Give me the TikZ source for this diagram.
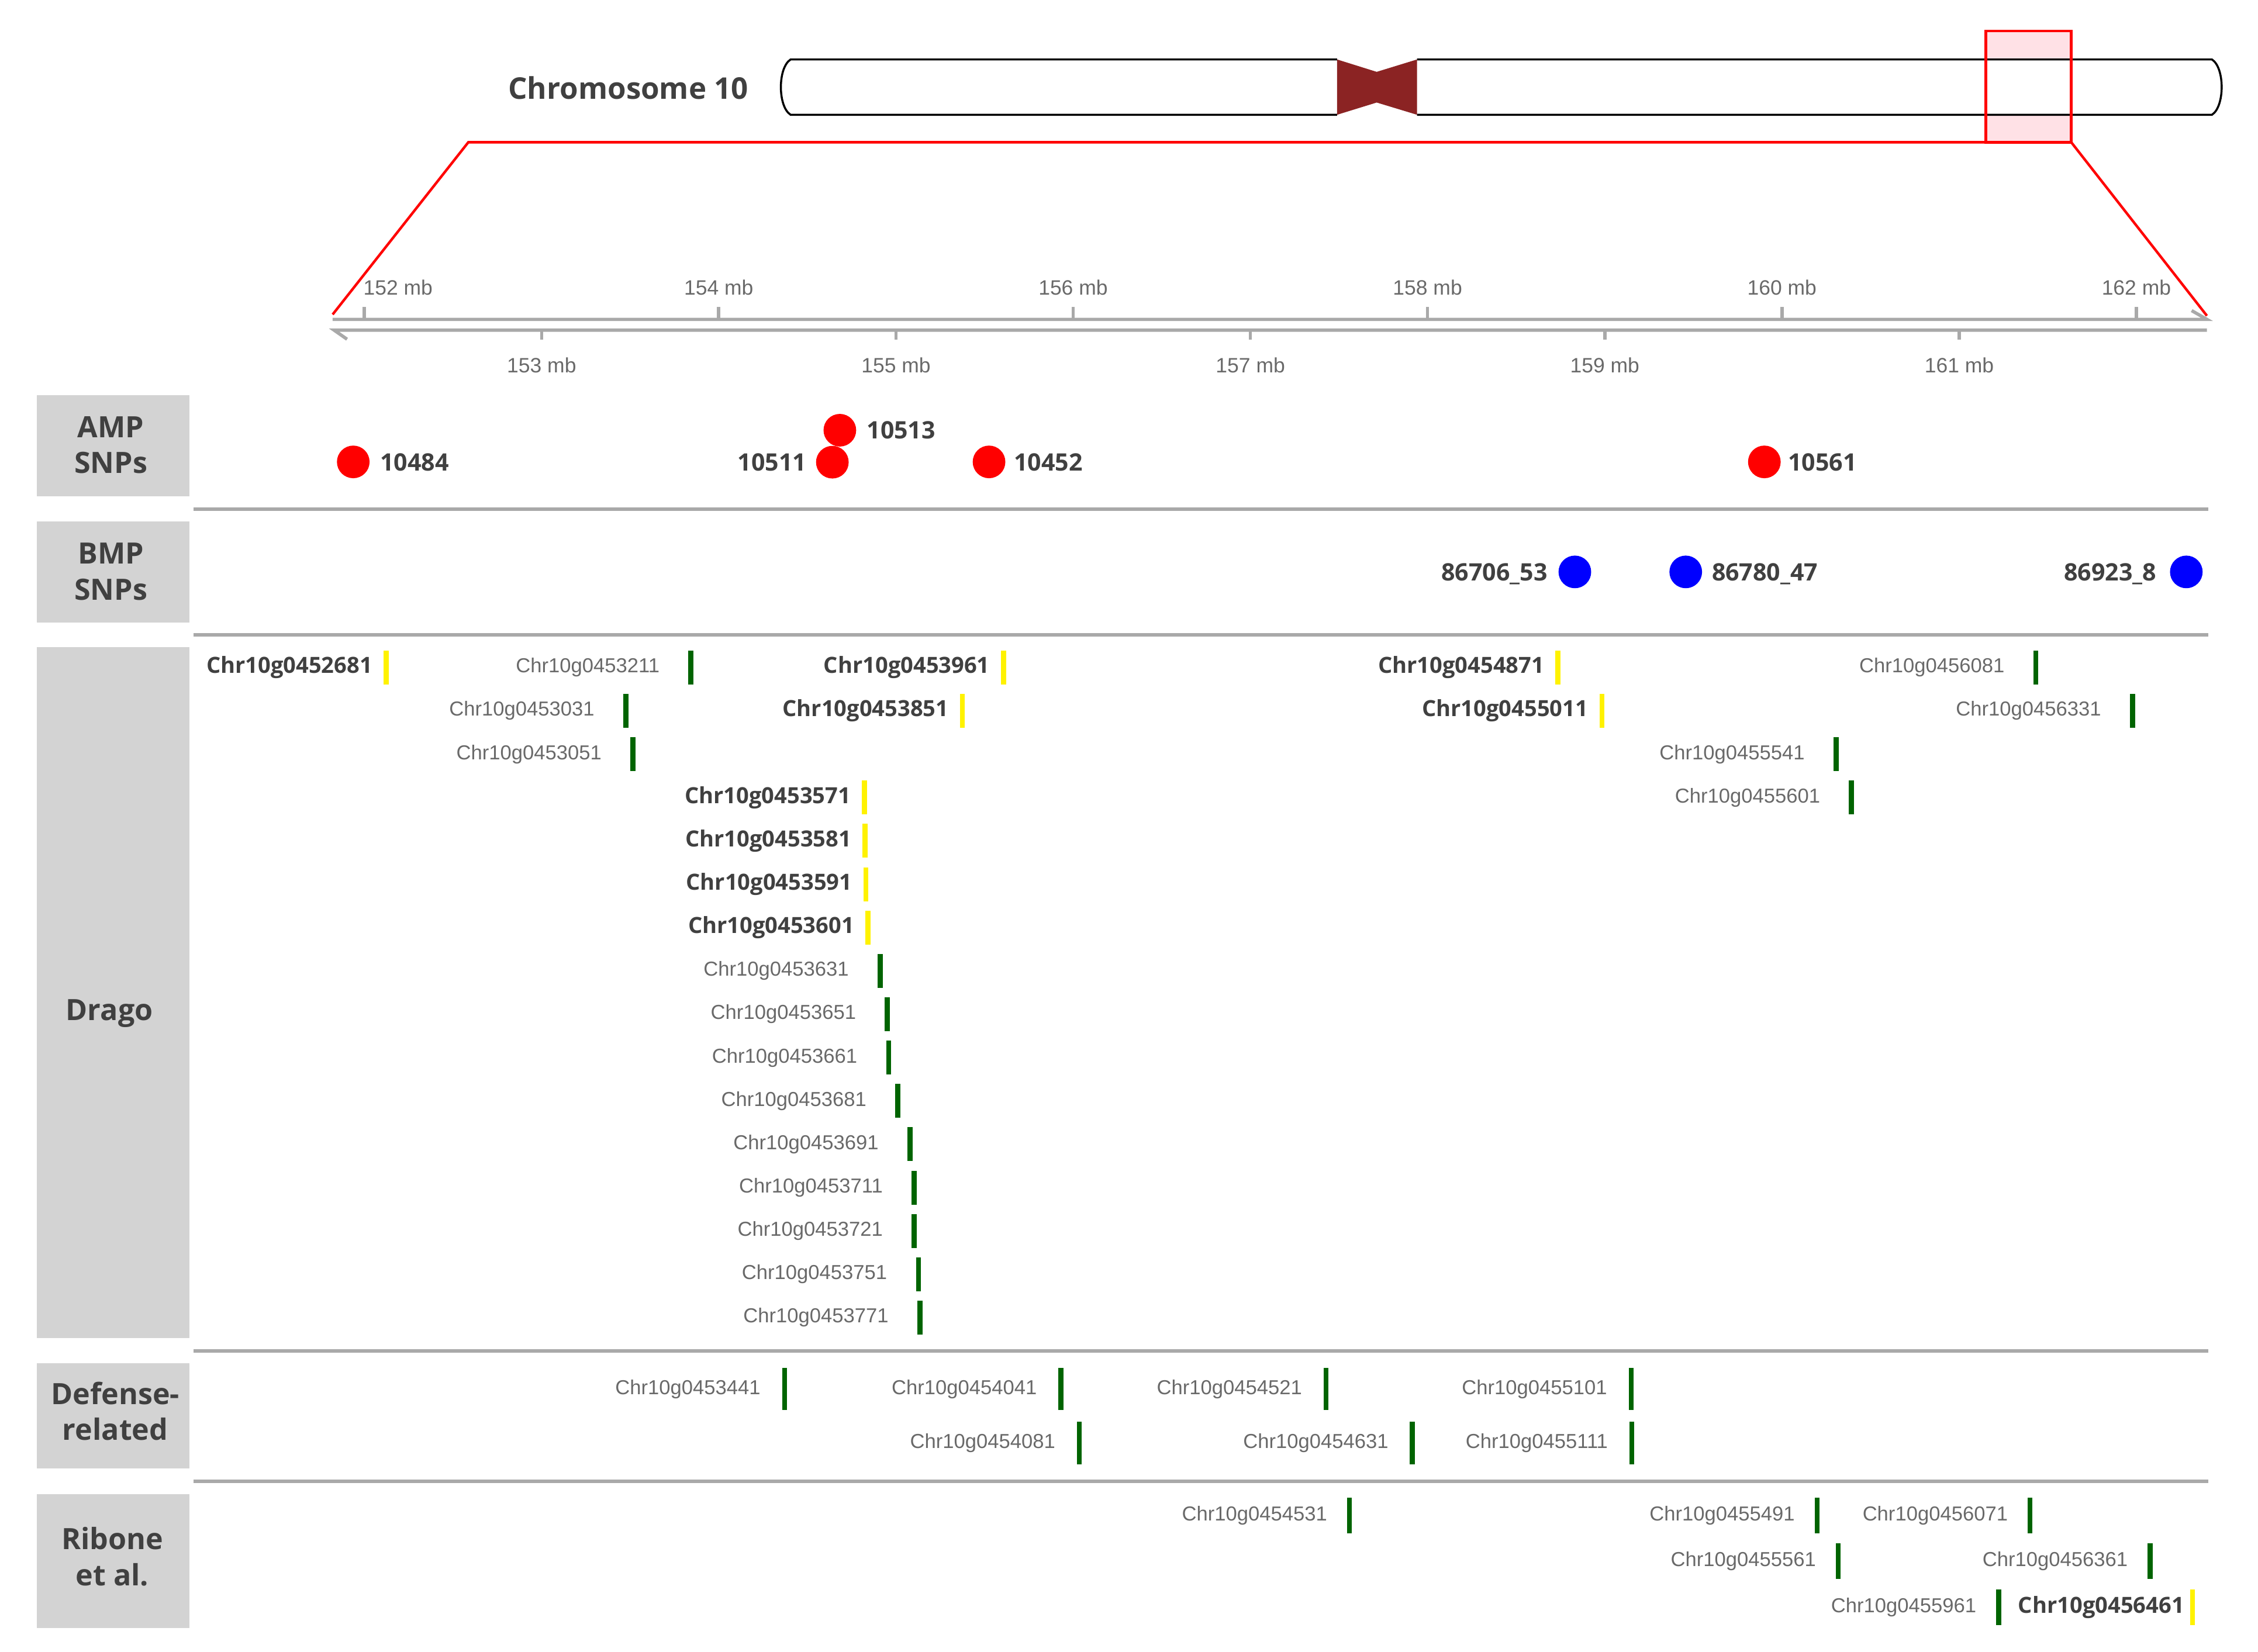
\documentclass[tikz,border=0pt]{standalone}
\usepackage{fontspec}
\setmainfont{Liberation Sans}
\newfontfamily\osans{Open Sans}
\newfontfamily\lsans{Liberation Sans}
\usetikzlibrary{positioning}

\definecolor{chrred}{RGB}{139,35,35}
\definecolor{axisgray}{RGB}{169,169,169}
\definecolor{boxgray}{RGB}{211,211,211}
\definecolor{dkgreen}{RGB}{0,100,0}
\definecolor{pinkbox}{RGB}{255,225,230}
\definecolor{lblgray}{RGB}{105,105,105}
\definecolor{txtdark}{RGB}{64,64,64}

\begin{document}
\begin{tikzpicture}[x=0.02cm,y=-0.02cm,
  chrline/.style={black,line width=0.8pt},
  zoomred/.style={red,line width=1pt},
  axisline/.style={axisgray,line width=1.3pt},
  sepline/.style={axisgray,line width=1.5pt},
  ticklab/.style={font=\lsans\fontsize{8.2}{9.8}\selectfont,text=lblgray,inner sep=0pt},
  seclab/.style={font=\osans\bfseries\fontsize{11.6}{14.2}\selectfont,text=txtdark,align=center,inner sep=0pt},
  ampdot/.style={circle,fill=red,inner sep=0pt,minimum size=12.9pt},
  bmpdot/.style={ampdot,fill=blue},
  snplab/.style={font=\osans\bfseries\fontsize{9.5}{11}\selectfont,text=txtdark,inner sep=0pt,text depth=0pt},
  gbar/.style={fill=dkgreen,inner sep=0pt,minimum width=2pt,minimum height=13.4pt},
  ybar/.style={gbar,fill=yellow},
  dbar/.style={gbar,minimum height=16.8pt},
  rbar/.style={gbar,minimum height=14.2pt},
  rybar/.style={rbar,fill=yellow},
  gtxt/.style={font=\lsans\fontsize{8}{9.6}\selectfont,text=lblgray,inner sep=0pt},
  ytxt/.style={font=\osans\bfseries\fontsize{8.8}{10.5}\selectfont,text=txtdark,inner sep=0pt},
  glab/.style={gtxt,xshift=-11pt},
  ylab/.style={ytxt,xshift=-4.1pt},
  dlab/.style={gtxt,xshift=-8.1pt},
  rlab/.style={gtxt,xshift=-7.4pt},
  rylab/.style={ytxt,xshift=-1.9pt}]
\useasboundingbox (0,0) rectangle (1568,1147);

% chromosome and zoom window
\fill[pinkbox] (1379,21.4) rectangle (1438.3,98.8);
\draw[chrline,fill=white] (928.5,41.3) -- (549,41.3) .. controls (540,47) and (540,74) .. (549,79.7) -- (928.5,79.7);
\draw[chrline,fill=white] (984,41.3) -- (1536,41.3) .. controls (1545,47) and (1545,74) .. (1536,79.7) -- (984,79.7);
\fill[chrred] (928.5,41.3) -- (956,49.9) -- (984,41.3) -- (984,79.7) -- (956,71.2) -- (928.5,79.7) -- cycle;
\draw[zoomred] (1379,21.4) rectangle (1438.3,98.8);
\draw[zoomred] (231,218.4) -- (325.2,98.8) -- (1438.3,98.8) -- (1532.5,219.3);
\node[font=\osans\bfseries\fontsize{11.8}{14}\selectfont,text=txtdark,anchor=east,inner sep=0pt] (chrname) at (520,61) {Chromosome 10};

% axis
\draw[axisline] (1521.9,215.7) -- (1532.5,221.8) -- (231,221.8);
\draw[axisline] (241,235.6) -- (232,229.3) -- (1532.5,229.3);
\draw[axisline] (253,221.8) -- (253,213) (499.1,221.8) -- (499.1,213) (745.2,221.8) -- (745.2,213)
  (991.3,221.8) -- (991.3,213) (1237.4,221.8) -- (1237.4,213) (1483.5,221.8) -- (1483.5,213);
\draw[axisline] (376.1,229.3) -- (376.1,236) (622.2,229.3) -- (622.2,236) (868.3,229.3) -- (868.3,236)
  (1114.4,229.3) -- (1114.4,236) (1360.5,229.3) -- (1360.5,236);
\node[ticklab,anchor=west] (t152) at (252,199.5) {152 mb};
\node[ticklab] (t154) at (499.1,199.5) {154 mb};
\node[ticklab] (t156) at (745.2,199.5) {156 mb};
\node[ticklab] (t158) at (991.3,199.5) {158 mb};
\node[ticklab] (t160) at (1237.4,199.5) {160 mb};
\node[ticklab] (t162) at (1483.5,199.5) {162 mb};
\node[ticklab] (t153) at (376.1,253.8) {153 mb};
\node[ticklab] (t155) at (622.2,253.8) {155 mb};
\node[ticklab] (t157) at (868.3,253.8) {157 mb};
\node[ticklab] (t159) at (1114.4,253.8) {159 mb};
\node[ticklab] (t161) at (1360.5,253.8) {161 mb};

% track boxes and separators
\fill[boxgray] (25.6,274.5) rectangle (131.4,344.7);
\fill[boxgray] (25.6,362.2) rectangle (131.4,432.4);
\fill[boxgray] (25.6,449.3) rectangle (131.4,929.3);
\fill[boxgray] (25.6,946.8) rectangle (131.4,1020);
\fill[boxgray] (25.6,1037.6) rectangle (131.4,1130.9);
\draw[sepline] (134.4,353.6) -- (1533.6,353.6);
\draw[sepline] (134.4,441) -- (1533.6,441);
\draw[sepline] (134.4,938.2) -- (1533.6,938.2);
\draw[sepline] (134.4,1028.7) -- (1533.6,1028.7);
\node[seclab] (amp) at (77,309) {AMP\\SNPs};
\node[seclab] (bmp) at (77,397) {BMP\\SNPs};
\node[seclab] (drago) at (76,704) {Drago};
\node[seclab] (defense) at (80,980) {Defense-\\related};
\node[seclab] (ribone) at (78,1081) {Ribone\\et al.};

% AMP SNPs
\node[ampdot] (s10484) at (245.3,320.8) {};
\node[ampdot] (s10513) at (583.2,298.8) {};
\node[ampdot] (s10511) at (578,321) {};
\node[ampdot] (s10452) at (686.8,320.8) {};
\node[ampdot] (s10561) at (1225.2,320.8) {};
\node[snplab,right=3.8pt of s10484] {10484};
\node[snplab,right=3.8pt of s10513] {10513};
\node[snplab,left=3.4pt of s10511] {10511};
\node[snplab,right=3pt of s10452] {10452};
\node[snplab,right=2.5pt of s10561] {10561};

% BMP SNPs
\node[bmpdot] (s86706) at (1093.6,397.2) {};
\node[bmpdot] (s86780) at (1170.6,397.2) {};
\node[bmpdot] (s86923) at (1518.2,397.2) {};
\node[snplab,left=4pt of s86706] {86706\_53};
\node[snplab,right=3.5pt of s86780] {86780\_47};
\node[snplab,left=5pt of s86923] {86923\_8};

% Drago
\node[ybar,label={[ylab]left:Chr10g0452681}] (g0452681) at (268.2,463.6) {};
\node[gbar,label={[glab]left:Chr10g0453211}] (g0453211) at (479.8,463.6) {};
\node[ybar,label={[ylab]left:Chr10g0453961}] (g0453961) at (696.9,463.6) {};
\node[ybar,label={[ylab]left:Chr10g0454871}] (g0454871) at (1081.9,463.6) {};
\node[gbar,label={[glab]left:Chr10g0456081}] (g0456081) at (1413.7,463.6) {};
\node[gbar,label={[glab]left:Chr10g0453031}] (g0453031) at (434.6,493.7) {};
\node[ybar,label={[ylab]left:Chr10g0453851}] (g0453851) at (668.3,493.7) {};
\node[ybar,label={[ylab]left:Chr10g0455011}] (g0455011) at (1112.4,493.7) {};
\node[gbar,label={[glab]left:Chr10g0456331}] (g0456331) at (1480.8,493.7) {};
\node[gbar,label={[glab]left:Chr10g0453051}] (g0453051) at (439.5,523.8) {};
\node[gbar,label={[glab]left:Chr10g0455541}] (g0455541) at (1275,523.8) {};
\node[ybar,label={[ylab]left:Chr10g0453571}] (g0453571) at (600.4,553.9) {};
\node[gbar,label={[glab]left:Chr10g0455601}] (g0455601) at (1285.7,553.9) {};
\node[ybar,label={[ylab]left:Chr10g0453581}] (g0453581) at (600.8,584) {};
\node[ybar,label={[ylab]left:Chr10g0453591}] (g0453591) at (601.3,614.1) {};
\node[ybar,label={[ylab]left:Chr10g0453601}] (g0453601) at (602.8,644.2) {};
\node[gbar,label={[glab]left:Chr10g0453631}] (g0453631) at (611.2,674.3) {};
\node[gbar,label={[glab]left:Chr10g0453651}] (g0453651) at (616.2,704.4) {};
\node[gbar,label={[glab]left:Chr10g0453661}] (g0453661) at (617.1,734.5) {};
\node[gbar,label={[glab]left:Chr10g0453681}] (g0453681) at (623.5,764.6) {};
\node[gbar,label={[glab]left:Chr10g0453691}] (g0453691) at (631.9,794.7) {};
\node[gbar,label={[glab]left:Chr10g0453711}] (g0453711) at (634.8,824.8) {};
\node[gbar,label={[glab]left:Chr10g0453721}] (g0453721) at (634.8,854.9) {};
\node[gbar,label={[glab]left:Chr10g0453751}] (g0453751) at (637.8,885) {};
\node[gbar,label={[glab]left:Chr10g0453771}] (g0453771) at (638.8,915.1) {};

% Defense-related
\node[dbar,label={[dlab]left:Chr10g0453441}] (g0453441) at (544.8,964.7) {};
\node[dbar,label={[dlab]left:Chr10g0454041}] (g0454041) at (736.7,964.7) {};
\node[dbar,label={[dlab]left:Chr10g0454521}] (g0454521) at (920.8,964.7) {};
\node[dbar,label={[dlab]left:Chr10g0455101}] (g0455101) at (1132.7,964.7) {};
\node[dbar,label={[dlab]left:Chr10g0454081}] (g0454081) at (749.5,1002.3) {};
\node[dbar,label={[dlab]left:Chr10g0454631}] (g0454631) at (980.8,1002.3) {};
\node[dbar,label={[dlab]left:Chr10g0455111}] (g0455111) at (1133.2,1002.3) {};

% Ribone et al.
\node[rbar,label={[rlab]left:Chr10g0454531}] (g0454531) at (937.1,1052.5) {};
\node[rbar,label={[rlab]left:Chr10g0455491}] (g0455491) at (1261.8,1052.5) {};
\node[rbar,label={[rlab]left:Chr10g0456071}] (g0456071) at (1409.7,1052.5) {};
\node[rbar,label={[rlab]left:Chr10g0455561}] (g0455561) at (1276.5,1084.3) {};
\node[rbar,label={[rlab]left:Chr10g0456361}] (g0456361) at (1493,1084.3) {};
\node[rbar,label={[rlab]left:Chr10g0455961}] (g0455961) at (1387.8,1116.2) {};
\node[rybar,label={[rylab]left:Chr10g0456461}] (g0456461) at (1522.5,1116.2) {};
\end{tikzpicture}
\end{document}
